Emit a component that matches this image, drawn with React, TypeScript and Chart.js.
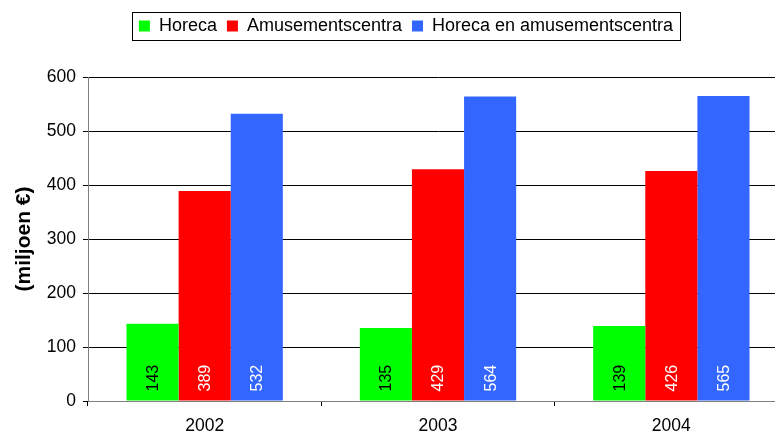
import React, { useEffect, useRef } from "react";
import { Chart, registerables } from "chart.js";

Chart.register(...registerables);

const categories = ["2002", "2003", "2004"];
const seriesNames = ["Horeca", "Amusementscentra", "Horeca en amusementscentra"];
const horeca = [143, 135, 139];
const amusement = [389, 429, 426];
const combined = [532, 564, 565];
const seriesColors = ["#00FF00", "#FF0000", "#3366FF"];
const labelColors = ["#000000", "#FFFFFF", "#FFFFFF"];
const yTitle = "(miljoen €)";

const FONT = "'Liberation Sans', Arial, sans-serif";

const legendBorder = {
  id: "legendBorder",
  afterInit(chart: any) {
    const legend = chart.legend;
    if (legend && !legend._patched) {
      const orig = legend.fit;
      legend.fit = function () {
        orig.call(this);
        this.height = 70;
      };
      legend._patched = true;
    }
  },
  afterDraw(chart: any) {
    const legend = chart.legend;
    if (!legend || !legend.legendHitBoxes || !legend.legendHitBoxes.length) return;
    const boxes = legend.legendHitBoxes;
    const first = boxes[0];
    const last = boxes[boxes.length - 1];
    const ctx = chart.ctx;
    ctx.save();
    ctx.strokeStyle = "#000";
    ctx.lineWidth = 1;
    const left = Math.round(first.left - 7) + 0.5;
    const right = Math.round(last.left + last.width + 7) + 0.5;
    const top = 12.5;
    ctx.strokeRect(left, top, right - left, 28);
    ctx.restore();
  },
};

const barLabels = {
  id: "barLabels",
  afterDatasetsDraw(chart: any) {
    const ctx = chart.ctx;
    ctx.save();
    ctx.font = `16px ${FONT}`;
    ctx.textAlign = "left";
    ctx.textBaseline = "middle";
    chart.data.datasets.forEach((ds: any, di: number) => {
      const meta = chart.getDatasetMeta(di);
      ctx.fillStyle = labelColors[di];
      meta.data.forEach((el: any, i: number) => {
        ctx.save();
        ctx.translate(el.x, el.base - 9);
        ctx.rotate(-Math.PI / 2);
        ctx.fillText(String(ds.data[i]), 0, 1);
        ctx.restore();
      });
    });
    ctx.restore();
  },
};

export default function App() {
  const ref = useRef<HTMLCanvasElement | null>(null);

  useEffect(() => {
    if (!ref.current) return;
    const chart = new Chart(ref.current, {
      type: "bar",
      data: {
        labels: categories,
        datasets: [horeca, amusement, combined].map((d, i) => ({
          label: seriesNames[i],
          data: d,
          backgroundColor: seriesColors[i],
          borderWidth: 0,
          categoryPercentage: 0.67,
          barPercentage: 1,
        })),
      },
      options: {
        responsive: false,
        animation: false,
        layout: { padding: { left: 24, right: 0, top: 7, bottom: 0 } },
        plugins: {
          tooltip: { enabled: false },
          legend: {
            display: true,
            position: "top",
            labels: {
              boxWidth: 11,
              boxHeight: 11,
              padding: 10,
              color: "#000",
              font: { family: FONT, size: 18 },
            },
          },
        },
        scales: {
          x: {
            afterFit(scale: any) {
              scale.height = 33;
            },
            grid: {
              display: true,
              drawOnChartArea: false,
              drawTicks: true,
              tickLength: 5,
              offset: true,
              color: "#000",
            },
            border: { display: true, color: "#808080", width: 1 },
            ticks: {
              color: "#000",
              padding: 10,
              font: { family: FONT, size: 17.5 },
            },
          },
          y: {
            min: 0,
            max: 600,
            afterFit(scale: any) {
              scale.width = 64;
            },
            ticks: {
              stepSize: 100,
              color: "#000",
              padding: 7,
              font: { family: FONT, size: 17.5 },
            },
            grid: {
              display: true,
              drawTicks: true,
              tickLength: 5,
              color: "#000",
            },
            border: { display: true, color: "#808080", width: 1 },
            title: {
              display: true,
              text: yTitle,
              color: "#000",
              padding: { top: -12, bottom: 0 },
              font: { family: FONT, size: 21, weight: "bold" },
            },
          },
        },
      },
      plugins: [legendBorder, barLabels],
    });
    return () => chart.destroy();
  }, []);

  return (
    <div
      style={{
        position: "fixed",
        left: 0,
        top: 0,
        width: 775,
        height: 434,
        overflow: "hidden",
        background: "#fff",
      }}
    >
      <canvas ref={ref} width={788} height={434} style={{ display: "block" }} />
    </div>
  );
}
